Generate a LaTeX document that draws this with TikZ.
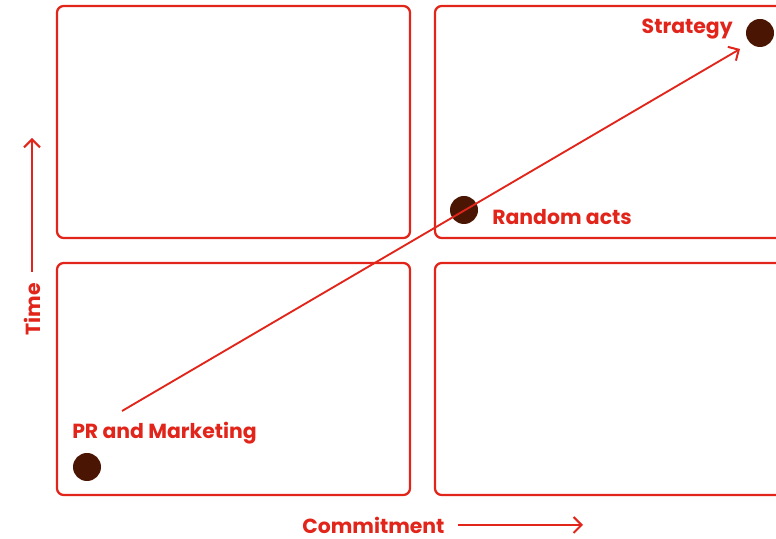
\documentclass[tikz,border=0pt]{standalone}
\usepackage{fontspec}
\setmainfont{Poppins}
\usepackage{xcolor}
\usetikzlibrary{arrows.meta, positioning, calc}
\definecolor{Signal}{HTML}{E1251B}
\definecolor{Cocoa}{HTML}{4A1502}
\tikzset{
    quad/.style={draw=Signal, line width=1.7pt, rounded corners=5pt},
    dot/.style={circle, fill=Cocoa, minimum size=21pt, inner sep=0pt},
    lbl/.style={text=Signal, font=\bfseries\fontsize{15.3}{18}\selectfont, inner sep=0pt},
    axis/.style={draw=Signal, line width=1.5pt, -{Straight Barb[length=6pt, width=12pt, line width=1.5pt]}}
}

\begin{document}
\begin{tikzpicture}[x=0.75pt, y=0.75pt]
    \useasboundingbox (0,0) rectangle (776,539);
    \clip (0,0) rectangle (776,539);

    % four quadrants
    \draw[quad] (57,533) rectangle (410,301);
    \draw[quad] (435,533) rectangle (800,301);
    \draw[quad] (57,276) rectangle (410,44);
    \draw[quad] (435,276) rectangle (800,44);

    % points along the path
    \node[dot] (pr) at (87,72) {};
    \node[dot] (random) at (464,329) {};
    \node[dot] (strategy) at (760,506) {};

    \node[lbl, anchor=west] (prlbl) at (72,106) {PR and Marketing};
    \node[lbl, anchor=west] (randomlbl) at (492,322) {Random acts};
    \node[lbl, anchor=east] (strategylbl) at (733,510) {Strategy};

    % trend arrow
    \coordinate (start) at (122,128);
    \coordinate (finish) at (740,490);
    \draw[axis, line width=1.4pt] (start) -- (finish);

    % axes
    \node[lbl, anchor=west] (commit) at (302,14) {Commitment};
    \coordinate (cend) at (583,14);
    \draw[axis] ([xshift=10pt]commit.east) -- (cend);

    \node[lbl, rotate=90] (time) at (32,230) {Time};
    \coordinate (tend) at (32,401);
    \draw[axis] ([yshift=8pt]time.east) -- (tend);
\end{tikzpicture}
\end{document}
